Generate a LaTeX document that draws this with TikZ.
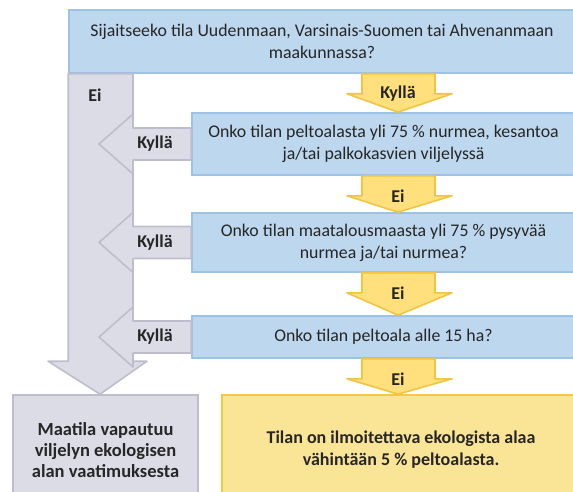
\documentclass[tikz,border=0pt]{standalone}
\usepackage{fontspec}
\setmainfont{Carlito}
\usetikzlibrary{calc}

\definecolor{kysfill}{HTML}{BDD7EE}
\definecolor{kysline}{HTML}{9CC2E5}
\definecolor{harmfill}{HTML}{DCDCE6}
\definecolor{harmline}{HTML}{BDBDCE}
\definecolor{keltfill}{HTML}{FAE496}
\definecolor{keltline}{HTML}{F5C844}
\definecolor{nuolifill}{HTML}{FFE07C}
\definecolor{nuoliline}{HTML}{F2C440}
\definecolor{teksti}{HTML}{262626}

\begin{document}
\begin{tikzpicture}[x=1pt, y=-1pt, every node/.style = {align=center, inner sep=0pt,
	text=teksti, font=\fontsize{17.8}{22}\selectfont},
	kysymys/.style = {draw=kysline, fill=kysfill, line width=1.6pt},
	harmaa/.style = {draw=harmline, fill=harmfill, line width=1.6pt},
	keltainen/.style = {draw=keltline, fill=keltfill, line width=1.6pt},
	kelta/.style = {draw=nuoliline, fill=nuolifill, line width=1.6pt, line join=round},
	vastaus/.style = {font=\fontsize{18}{20}\selectfont\bfseries}]
\useasboundingbox (0,0) rectangle (573,492);

\node[kysymys, minimum width=506pt, minimum height=63pt] (q1) at (322,41.5)
	{Sijaitseeko tila Uudenmaan, Varsinais-Suomen tai Ahvenanmaan\\ maakunnassa?};
\node[kysymys, minimum width=383pt, minimum height=62pt] (q2) at (383.5,144)
	{Onko tilan peltoalasta yli 75 \% nurmea, kesantoa\\ ja/tai palkokasvien viljelyssä};
\node[kysymys, minimum width=383pt, minimum height=59pt] (q3) at (383.5,242.5)
	{Onko tilan maatalousmaasta yli 75 \% pysyvää\\ nurmea ja/tai nurmea?};
\node[kysymys, minimum width=383pt, minimum height=42pt] (q4) at (383.5,337)
	{Onko tilan peltoala alle 15 ha?};

\node[harmaa, minimum width=185pt, minimum height=110pt, font=\fontsize{18.5}{21}\selectfont\bfseries]
	(vapaa) at (105.5,450) {Maatila vapautuu\\ viljelyn ekologisen\\ alan vaatimuksesta};
\node[keltainen, minimum width=358pt, minimum height=110pt, font=\fontsize{18}{22}\selectfont\bfseries]
	(ala) at (401,450) {Tilan on ilmoitettava ekologista alaa\\ vähintään 5 \% peltoalasta.};

% Ei-sarake
\draw[harmaa, line join=round] let \p1=(q1.south west), \p2=(vapaa.north) in
	(\x1,\y1) -- (133pt,\y1) -- (133pt,\y2+33pt) -- (147pt,\y2+33pt) -- (100pt,\y2)
	-- (48pt,\y2+33pt) -- (\x1,\y2+33pt) -- cycle;
\node[vastaus] (ei) at (95,95) {Ei};

% Kyllä-nuolet vasemmalle
\foreach \q in {q2,q3,q4}
	\draw[harmaa, line join=round] let \p1=(\q.west) in
		(\x1,\y1+16pt) -- (133pt,\y1+16pt) -- (133pt,\y1+30pt) -- (99pt,\y1)
		-- (133pt,\y1-30pt) -- (133pt,\y1-16pt) -- (\x1,\y1-16pt) -- cycle
		(155pt,\y1) node[vastaus] {Kyllä};

% keltaiset nuolet alas
\foreach \a/\b/\t in {q1/q2/Kyllä, q2/q3/Ei, q3/q4/Ei, q4/ala/Ei}
	\draw[kelta] let \p1=(\a.south), \p2=(\b.north) in
		(362pt,\y1) -- (362pt,\y1-20pt) -- (347pt,\y1-20pt) -- (398pt,\y2)
		-- (452pt,\y1-20pt) -- (435pt,\y1-20pt) -- (435pt,\y1) -- cycle
		(398pt,\y1-20pt) node[vastaus] {\t};
\end{tikzpicture}
\end{document}
